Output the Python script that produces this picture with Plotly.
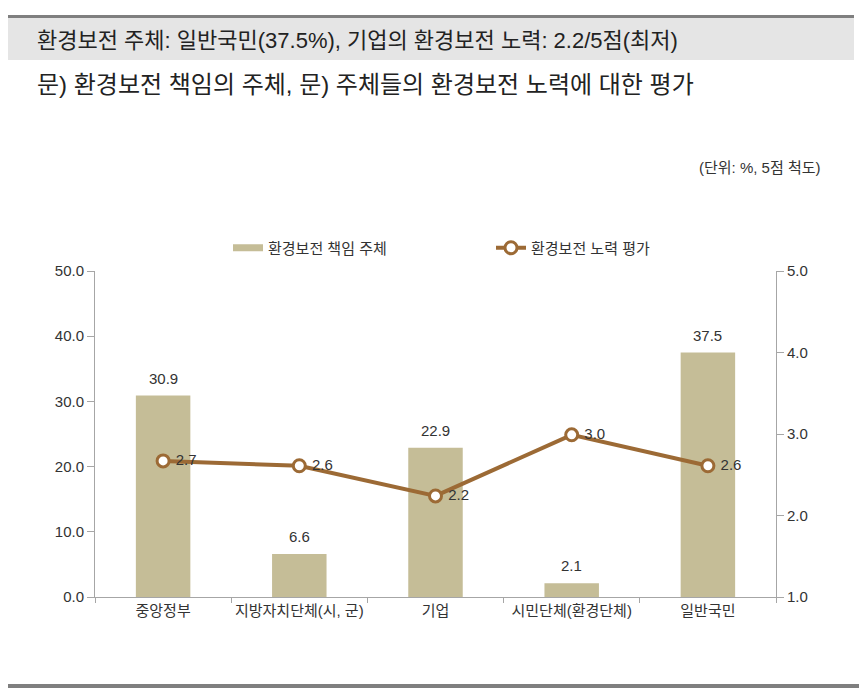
import plotly.graph_objects as go

categories = ["중앙정부", "지방자치단체(시, 군)", "기업", "시민단체(환경단체)", "일반국민"]
responsibility = [30.9, 6.6, 22.9, 2.1, 37.5]
effort = [2.67, 2.61, 2.24, 2.99, 2.61]
left_ticks = [0, 10, 20, 30, 40, 50]
right_ticks = [1, 2, 3, 4, 5]

FONT = "Liberation Sans, Noto Sans CJK KR"
BAR_C = "#c5bd97"
LINE_C = "#9c6a35"
TXT = "#333333"
W, H = 867, 696
L, R, T, B = 95, 776, 271, 597

def px(x):
    return (x - L) / (R - L)

def py(y):
    return (B - y) / (B - T)

fig = go.Figure()
fig.add_trace(go.Bar(
    x=categories, y=responsibility, name="환경보전 책임 주체",
    marker=dict(color=BAR_C, line=dict(width=0)),
    width=0.4, showlegend=False,
))
# legend swatch for the bars (wide flat rectangle like the original)
fig.add_trace(go.Scatter(
    x=[None], y=[None], name="환경보전 책임 주체", mode="lines",
    line=dict(color=BAR_C, width=7), showlegend=True,
))
fig.add_trace(go.Scatter(
    x=categories, y=effort, name="환경보전 노력 평가", yaxis="y2",
    mode="lines+markers+text",
    line=dict(color=LINE_C, width=4),
    marker=dict(size=12, color="white", line=dict(color=LINE_C, width=3)),
    text=[f" {v:.1f}" for v in effort], textposition="middle right",
    textfont=dict(size=15, color=TXT, family=FONT),
    cliponaxis=False,
))

bar_labels = [
    dict(x=c, y=v, xref="x", yref="y", text=f"{v:.1f}", showarrow=False,
         yanchor="bottom", yshift=7, font=dict(size=15, color=TXT, family=FONT))
    for c, v in zip(categories, responsibility)
]

fig.update_layout(
    width=W, height=H,
    margin=dict(l=L, r=W - R, t=T, b=H - B),
    paper_bgcolor="white", plot_bgcolor="white",
    font=dict(family=FONT, color=TXT, size=15),
    showlegend=True,
    legend=dict(orientation="h", x=px(228), xanchor="left", y=py(248), yanchor="middle",
                font=dict(size=15, color=TXT, family=FONT),
                entrywidth=218, entrywidthmode="pixels", itemwidth=30,
                bgcolor="rgba(0,0,0,0)", traceorder="normal"),
    xaxis=dict(showgrid=False, showline=True, linecolor="#a6a6a6", linewidth=1,
               ticks="outside", tickson="boundaries", ticklen=5, tickcolor="#a6a6a6",
               tickangle=0, tickfont=dict(size=15, color=TXT)),
    yaxis=dict(range=[0, 50], tickvals=left_ticks, ticktext=[f"{v:.1f}" for v in left_ticks],
               showgrid=False, zeroline=False, showline=True, linecolor="#a6a6a6",
               ticks="outside", ticklen=7, tickcolor="#a6a6a6",
               tickfont=dict(size=15, color=TXT)),
    yaxis2=dict(range=[1, 5], tickvals=right_ticks, ticktext=[f"{v:.1f}" for v in right_ticks],
                overlaying="y", side="right", showgrid=False, zeroline=False,
                showline=True, linecolor="#a6a6a6", ticks="outside", ticklen=7,
                tickcolor="#a6a6a6", tickfont=dict(size=15, color=TXT)),
)

shapes = [
    dict(type="rect", xref="paper", yref="paper", x0=px(8), x1=px(854), y0=py(60), y1=py(18),
         fillcolor="#e5e5e5", line=dict(width=0), layer="below"),
    dict(type="line", xref="paper", yref="paper", x0=px(8), x1=px(854), y0=py(16.5), y1=py(16.5),
         line=dict(color="#7f7f7f", width=3)),
    dict(type="line", xref="paper", yref="paper", x0=px(8), x1=px(859), y0=py(686), y1=py(686),
         line=dict(color="#7f7f7f", width=4)),
]
fig.update_layout(shapes=shapes)

annotations = bar_labels + [
    dict(text="환경보전 주체: 일반국민(37.5%), 기업의 환경보전 노력: 2.2/5점(최저)",
         xref="paper", yref="paper", x=px(35), y=py(40), xanchor="left", yanchor="middle",
         showarrow=False, font=dict(size=22, color="#222222", family=FONT)),
    dict(text="문) 환경보전 책임의 주체, 문) 주체들의 환경보전 노력에 대한 평가",
         xref="paper", yref="paper", x=px(35), y=py(84), xanchor="left", yanchor="middle",
         showarrow=False, font=dict(size=24, color="#222222", family=FONT)),
    dict(text="(단위: %, 5점 척도)",
         xref="paper", yref="paper", x=px(823), y=py(167), xanchor="right", yanchor="middle",
         showarrow=False, font=dict(size=15, color=TXT, family=FONT)),
]
fig.update_layout(annotations=annotations)

fig.write_html("out.html", config={"displayModeBar": False},
               post_script="document.body.style.margin='0';")
